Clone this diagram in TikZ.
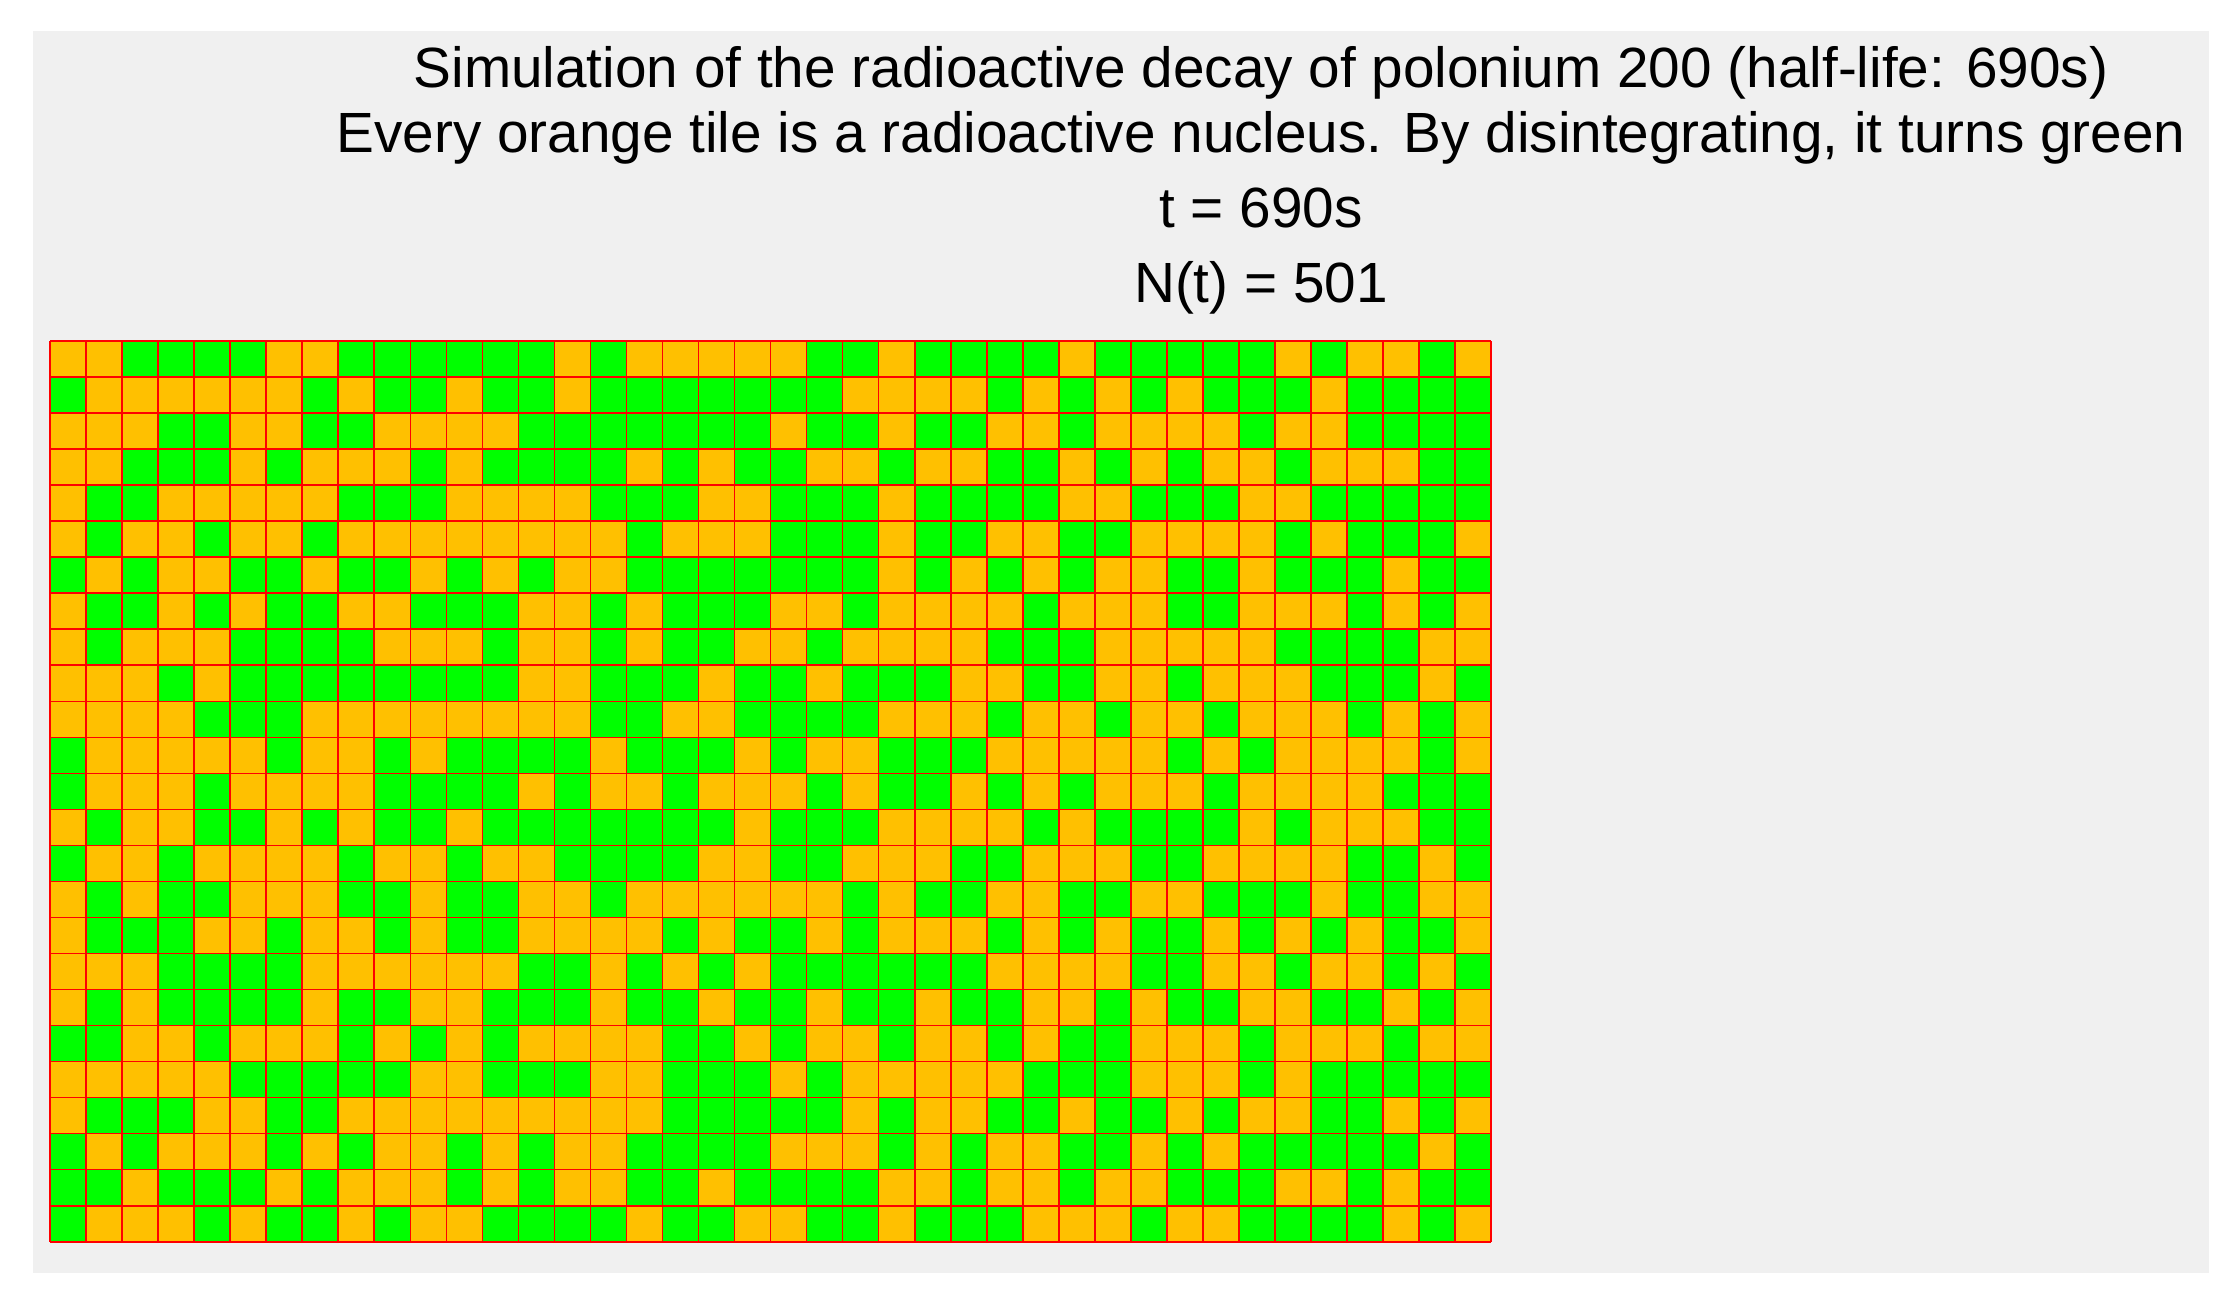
\documentclass[tikz,border=0pt]{standalone}
\usepackage{fontspec}
\setmainfont{Liberation Sans}
\definecolor{panelgray}{RGB}{240,240,240}
\definecolor{tileorange}{RGB}{255,192,0}
\definecolor{tilegreen}{RGB}{0,255,0}
\definecolor{gridred}{RGB}{255,0,0}
\tikzset{
  titletext/.style={anchor=base, inner sep=0pt, font=\fontsize{28.35}{34}\selectfont, text=black},
  gridline/.style={draw=gridred, line width=0.8pt}
}
\begin{document}
\begin{tikzpicture}[x=0.5pt,y=-0.5pt]
\useasboundingbox (0,0) rectangle (2235,1301);
\fill[white] (0,0) rectangle (2235,1301);
\fill[panelgray] (33,31) rectangle (2209,1273);
\node[titletext] (title1) at (1261,87) {Simulation of the radioactive decay of polonium 200 (half-life: 690s)};
\node[titletext] (title2) at (1261,152) {Every orange tile is a radioactive nucleus. By disintegrating, it turns green};
\node[titletext] (tlabel) at (1261,227) {t = 690s};
\node[titletext] (nlabel) at (1261,302) {N(t) = 501};
\def\cs{36.03}
\fill[tileorange] (50,341) rectangle ({50+40*\cs},{341+25*\cs});
\foreach \row [count=\r from 0] in {%
{1,1,0,0,0,0,1,1,0,0,0,0,0,0,1,0,1,1,1,1,1,0,0,1,0,0,0,0,1,0,0,0,0,0,1,0,1,1,0,1},%
{0,1,1,1,1,1,1,0,1,0,0,1,0,0,1,0,0,0,0,0,0,0,1,1,1,1,0,1,0,1,0,1,0,0,0,1,0,0,0,0},%
{1,1,1,0,0,1,1,0,0,1,1,1,1,0,0,0,0,0,0,0,1,0,0,1,0,0,1,1,0,1,1,1,1,0,1,1,0,0,0,0},%
{1,1,0,0,0,1,0,1,1,1,0,1,0,0,0,0,1,0,1,0,0,1,1,0,1,1,0,0,1,0,1,0,1,1,0,1,1,1,0,0},%
{1,0,0,1,1,1,1,1,0,0,0,1,1,1,1,0,0,0,1,1,0,0,0,1,0,0,0,0,1,1,0,0,0,1,1,0,0,0,0,0},%
{1,0,1,1,0,1,1,0,1,1,1,1,1,1,1,1,0,1,1,1,0,0,0,1,0,0,1,1,0,0,1,1,1,1,0,1,0,0,0,1},%
{0,1,0,1,1,0,0,1,0,0,1,0,1,0,1,1,0,0,0,0,0,0,0,1,0,1,0,1,0,1,1,0,0,1,0,0,0,1,0,0},%
{1,0,0,1,0,1,0,0,1,1,0,0,0,1,1,0,1,0,0,0,1,1,0,1,1,1,1,0,1,1,1,0,0,1,1,1,0,1,0,1},%
{1,0,1,1,1,0,0,0,0,1,1,1,0,1,1,0,1,0,0,1,1,0,1,1,1,1,0,0,0,1,1,1,1,1,0,0,0,0,1,1},%
{1,1,1,0,1,0,0,0,0,0,0,0,0,1,1,0,0,0,1,0,0,1,0,0,0,1,1,0,0,1,1,0,1,1,1,0,0,0,1,0},%
{1,1,1,1,0,0,0,1,1,1,1,1,1,1,1,0,0,1,1,0,0,0,0,1,1,1,0,1,1,0,1,1,0,1,1,1,0,1,0,1},%
{0,1,1,1,1,1,0,1,1,0,1,0,0,0,0,1,0,0,0,1,0,1,1,0,0,0,1,1,1,1,1,0,1,0,1,1,1,1,0,1},%
{0,1,1,1,0,1,1,1,1,0,0,0,0,1,0,1,1,0,1,1,1,0,1,0,0,1,0,1,0,1,1,1,0,1,1,1,1,0,0,0},%
{1,0,1,1,0,0,1,0,1,0,0,1,0,0,0,0,0,0,0,1,0,0,0,1,1,1,1,0,1,0,0,0,0,1,0,1,1,1,0,0},%
{0,1,1,0,1,1,1,1,0,1,1,0,1,1,0,0,0,0,1,1,0,0,1,1,1,0,0,1,1,1,0,0,1,1,1,1,0,0,1,0},%
{1,0,1,0,0,1,1,1,0,0,1,0,0,1,1,0,1,1,1,1,1,1,0,1,0,0,1,1,0,0,1,1,0,0,0,1,0,0,1,1},%
{1,0,0,0,1,1,0,1,1,0,1,0,0,1,1,1,1,0,1,0,0,1,0,1,1,1,0,1,0,1,0,0,1,0,1,0,1,0,0,1},%
{1,1,1,0,0,0,0,1,1,1,1,1,1,0,0,1,0,1,0,1,0,0,0,0,0,0,1,1,1,1,0,0,1,1,0,1,1,0,1,0},%
{1,0,1,0,0,0,0,1,0,0,1,1,0,0,0,1,0,0,1,0,0,1,0,0,1,0,0,1,1,0,1,0,0,1,1,0,0,1,0,1},%
{0,0,1,1,0,1,1,1,0,1,0,1,0,1,1,1,1,0,0,1,0,1,1,0,1,1,0,1,0,0,1,1,1,0,1,1,1,0,1,1},%
{1,1,1,1,1,0,0,0,0,0,1,1,0,0,0,1,1,0,0,0,1,0,1,1,1,1,1,0,0,0,1,1,1,0,1,0,0,0,0,0},%
{1,0,0,0,1,1,0,0,1,1,1,1,1,1,1,1,1,0,0,0,0,0,1,0,1,1,0,0,1,0,0,1,0,1,1,0,0,1,0,1},%
{0,1,0,1,1,1,0,1,0,1,1,0,1,0,1,1,0,0,0,0,1,1,1,0,1,0,1,1,0,0,1,0,1,0,0,0,0,0,1,0},%
{0,0,1,0,0,0,1,0,1,1,1,0,1,0,1,1,0,0,1,0,0,0,0,1,1,0,1,1,0,1,1,0,0,0,1,1,0,1,0,0},%
{0,1,1,1,0,1,0,0,1,0,1,1,0,0,0,0,1,0,0,1,1,0,0,1,0,0,0,1,1,1,0,1,1,0,0,0,0,1,0,1}%
} {
  \foreach \v [count=\c from 0] in \row {
    \ifnum\v=0
      \fill[tilegreen] ({50+\c*\cs},{341+\r*\cs}) rectangle ++(\cs,\cs);
    \fi
  }
}
\foreach \c in {0,...,40} {
  \draw[gridline] ({50+\c*\cs},341) -- ({50+\c*\cs},{341+25*\cs});
}
\foreach \r in {0,...,25} {
  \draw[gridline] (50,{341+\r*\cs}) -- ({50+40*\cs},{341+\r*\cs});
}
\end{tikzpicture}
\end{document}
